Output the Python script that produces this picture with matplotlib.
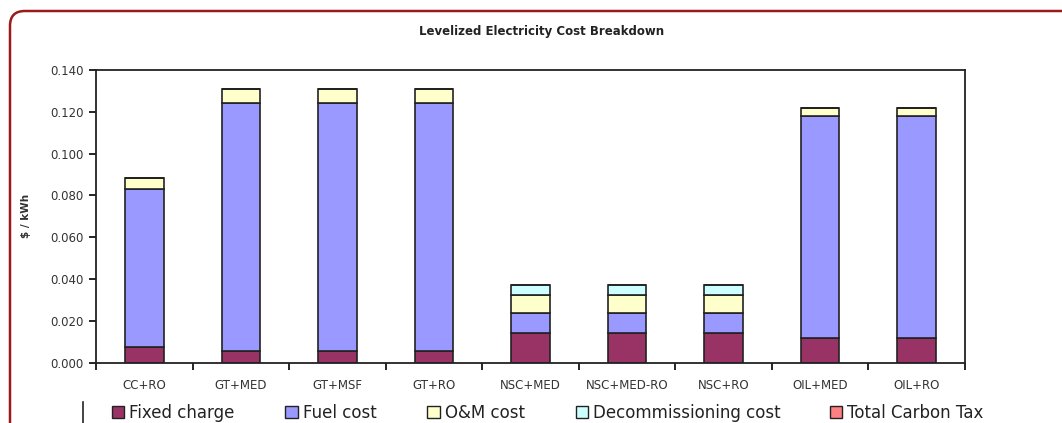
import matplotlib
matplotlib.use("Agg")
import matplotlib.pyplot as plt
from matplotlib.patches import FancyBboxPatch, Patch
from matplotlib.lines import Line2D
import numpy as np

categories = ["CC+RO", "GT+MED", "GT+MSF", "GT+RO", "NSC+MED", "NSC+MED-RO", "NSC+RO", "OIL+MED", "OIL+RO"]
fixed_charge = [0.0075, 0.0056, 0.0056, 0.0056, 0.0141, 0.0141, 0.0141, 0.0117, 0.0117]
fuel_cost = [0.0756, 0.1186, 0.1186, 0.1186, 0.0099, 0.0099, 0.0099, 0.1063, 0.1063]
om_cost = [0.0054, 0.0066, 0.0066, 0.0066, 0.0085, 0.0085, 0.0085, 0.0037, 0.0037]
decom_cost = [0.0, 0.0, 0.0, 0.0, 0.0045, 0.0045, 0.0045, 0.0, 0.0]
carbon_tax = [0.0, 0.0, 0.0, 0.0, 0.0, 0.0, 0.0, 0.0, 0.0]
series_names = ["Fixed charge", "Fuel cost", "O&M cost", "Decommissioning cost", "Total Carbon Tax"]
yticks = [0.0, 0.02, 0.04, 0.06, 0.08, 0.10, 0.12, 0.14]
ytick_labels = ["0.000", "0.020", "0.040", "0.060", "0.080", "0.100", "0.120", "0.140"]

colors = ["#993366", "#9999FF", "#FFFFCC", "#CCFFFF", "#FF8080"]

W, H = 1062, 423
fig = plt.figure(figsize=(W / 100, H / 100), dpi=100)
fig.patch.set_facecolor("white")

# outer rounded frame (extends beyond right/bottom)
frame = FancyBboxPatch((10 / W, -40 / H), 1.2, (H - 11 + 40) / H,
                       boxstyle="round,pad=0,rounding_size=0.014",
                       transform=fig.transFigure, facecolor="none",
                       edgecolor="#9B1B1B", linewidth=1.8, clip_on=False,
                       mutation_aspect=W / H)
fig.patches.append(frame)

ax = fig.add_axes([96 / W, (H - 362.7) / H, (965 - 96) / W, (362.7 - 70) / H])
x = np.arange(len(categories))
series = [fixed_charge, fuel_cost, om_cost, decom_cost, carbon_tax]
bottom = np.zeros(len(categories))
for vals, c in zip(series, colors):
    v = np.array(vals)
    ax.bar(x, v, bottom=bottom, width=0.40, color=c, edgecolor="#222222", linewidth=1.2)
    bottom += v

ax.set_xlim(-0.5, len(categories) - 0.5)
ax.set_ylim(0, 0.14)
ax.set_yticks(yticks)
ax.set_yticklabels(ytick_labels, fontsize=8.5, color="#333333")
ax.set_xticks(x)
ax.set_xticklabels(categories, fontsize=8.5, color="#333333")
ax.tick_params(axis="x", length=0, pad=12)
ax.set_xticks(np.arange(len(categories) + 1) - 0.5, minor=True)
ax.tick_params(axis="x", which="minor", length=5, direction="out", width=1.2)
ax.tick_params(axis="y", length=5, direction="out", width=1.2, pad=4)
for s in ax.spines.values():
    s.set_linewidth(1.3)
    s.set_color("#222222")
ax.set_ylabel("$ / kWh", fontsize=7.5, labelpad=14, fontweight="bold", color="#333333")

fig.text(542 / W, 1 - 31 / H, "Levelized Electricity Cost Breakdown", ha="center", va="center",
         fontsize=8.5, fontweight="bold", color="#222222")

# legend (Excel-like spacing)
handles = [Patch(facecolor=c, edgecolor="#222222", linewidth=1.0, label=n) for c, n in zip(colors, series_names)]
kw = dict(frameon=False, fontsize=12, handlelength=0.75, handleheight=0.75,
          handletextpad=0.3, borderaxespad=0, loc="center left")
leg1 = fig.legend(handles=handles[:4], bbox_to_anchor=(105 / W, 1 - 413 / H), ncol=4,
                  columnspacing=3.05, **kw)
leg2 = fig.legend(handles=handles[4:], bbox_to_anchor=(823 / W, 1 - 413 / H), ncol=1, **kw)
for lg in (leg1, leg2):
    for t in lg.get_texts():
        t.set_color("#222222")
fig.add_artist(Line2D([83 / W, 83 / W], [0, 1 - 402 / H], transform=fig.transFigure,
                      color="#222222", linewidth=1.2))

fig.savefig("out.png", dpi=100)
